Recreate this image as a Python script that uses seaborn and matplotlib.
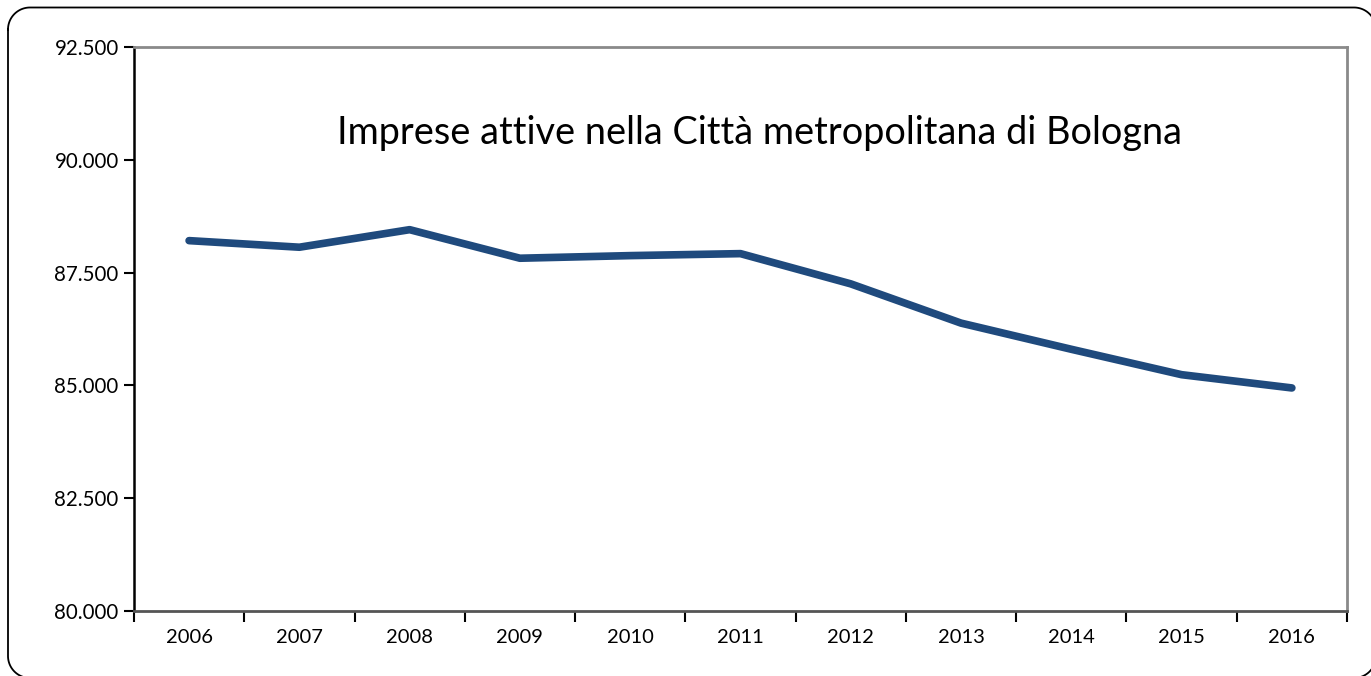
import matplotlib
matplotlib.use("Agg")
import matplotlib.pyplot as plt
import seaborn as sns
import pandas as pd
import numpy as np
from matplotlib.lines import Line2D
from matplotlib.ticker import FixedLocator, FuncFormatter, NullFormatter

years = ["2006", "2007", "2008", "2009", "2010", "2011", "2012", "2013", "2014", "2015", "2016"]
imprese = [88208, 88062, 88451, 87818, 87876, 87920, 87250, 86380, 85800, 85237, 84943]
yticks = [80000, 82500, 85000, 87500, 90000, 92500]
title = "Imprese attive nella Città metropolitana di Bologna"

sns.set_theme(style="white")
plt.rcParams["font.family"] = ["Lato", "DejaVu Sans"]

fig = plt.figure(figsize=(13.71, 6.76), dpi=100)
ax = fig.add_axes([0.0977, 0.0962, 0.8848, 0.8343])

df = pd.DataFrame({"anno": years, "imprese": imprese})
sns.lineplot(data=df, x="anno", y="imprese", sort=False, ax=ax,
             color="#1F4A7D", linewidth=5.5, solid_capstyle="round",
             solid_joinstyle="round")

ax.set_xlim(-0.5, len(years) - 0.5)
ax.set_ylim(yticks[0], yticks[-1])
ax.set_xlabel("")
ax.set_ylabel("")

# x: tick marks at category boundaries, labels at centres
ax.xaxis.set_major_locator(FixedLocator([i - 0.5 for i in range(len(years) + 1)]))
ax.xaxis.set_major_formatter(NullFormatter())
ax.xaxis.set_minor_locator(FixedLocator(list(range(len(years)))))
ax.set_xticklabels(years, minor=True)
ax.tick_params(axis="x", which="major", direction="out", length=8, width=1.5,
               color="black", bottom=True)
ax.tick_params(axis="x", which="minor", length=0, labelsize=14.5, pad=13,
               labelcolor="black")

ax.set_yticks(yticks)
ax.yaxis.set_major_formatter(FuncFormatter(lambda v, p: f"{int(v):,}".replace(",", ".")))
ax.tick_params(axis="y", direction="out", length=7, width=1.5, color="black",
               left=True, labelsize=14.8, pad=4, labelcolor="black")

for side in ["top", "right"]:
    ax.spines[side].set_visible(True)
    ax.spines[side].set_color("#8a8a8a")
    ax.spines[side].set_linewidth(2)
ax.spines["left"].set_color("black")
ax.spines["left"].set_linewidth(1.8)
ax.spines["bottom"].set_color("#555555")
ax.spines["bottom"].set_linewidth(2)

ax.text(0.516, 0.848, title, transform=ax.transAxes, ha="center", va="center",
        fontsize=27.3, color="black")

# rounded border around the whole chart (pixel coords, origin top-left),
# right and bottom sides run past the image edge as in the reference
W, H = 1371, 676
x0, y0, x1, y1, r = 8.0, 7.5, 1376.0, 678.0, 22.0
t = np.linspace(0, np.pi / 2, 30)
pts = []
cx, cy = x0 + r, y0 + r
pts += list(zip(cx - r * np.cos(t), cy - r * np.sin(t)))
cx, cy = x1 - r, y0 + r
pts += list(zip(cx + r * np.sin(t), cy - r * np.cos(t)))
cx, cy = x1 - r, y1 - r
pts += list(zip(cx + r * np.cos(t), cy + r * np.sin(t)))
cx, cy = x0 + r, y1 - r
pts += list(zip(cx - r * np.sin(t), cy + r * np.cos(t)))
pts.append(pts[0])
px = np.array([p[0] for p in pts])
py = np.array([p[1] for p in pts])
border = Line2D(px / W, 1 - py / H, transform=fig.transFigure, color="black",
                linewidth=1.3, solid_joinstyle="round")
fig.add_artist(border)

fig.savefig("out.png", dpi=100)
